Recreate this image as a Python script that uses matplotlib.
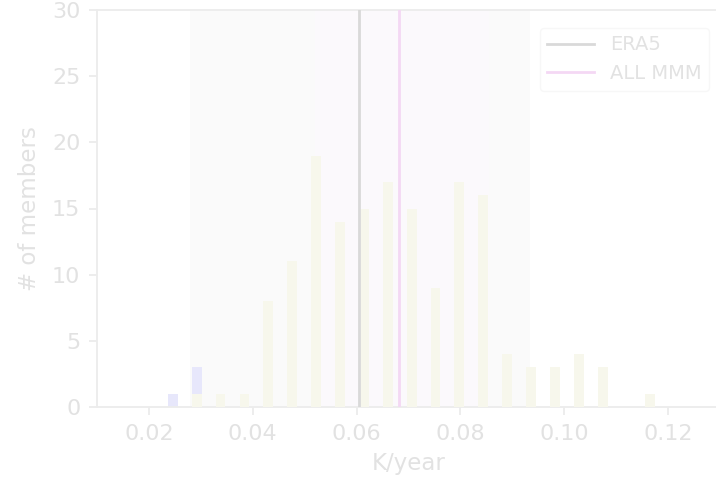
import matplotlib.pyplot as plt
import numpy as np

# histogram bin centres (K/year) and member counts per bin
bin_centres = [0.0246, 0.0292, 0.0338, 0.0384, 0.0430, 0.0476, 0.0522,
               0.0568, 0.0614, 0.0660, 0.0706, 0.0752, 0.0798, 0.0844,
               0.0890, 0.0936, 0.0982, 0.1028, 0.1074, 0.1120, 0.1166]
counts_obs_like = [1, 3, 0, 0, 0, 0, 0, 0, 0, 0, 0, 0, 0, 0, 0, 0, 0, 0, 0, 0, 0]
counts_models = [0, 1, 1, 1, 8, 11, 19, 14, 15, 17, 15, 9, 17, 16, 4, 3, 3, 4, 3, 0, 1]

# shaded ranges and reference trends
full_range = (0.0279, 0.0934)
mmm_range = (0.0520, 0.0855)
era5_trend = 0.0605
mmm_trend = 0.0682

bar_width = 0.0019
txt = '#e2e2e2'

fig = plt.figure(figsize=(7.16, 4.84), dpi=100)
ax = fig.add_axes([97 / 716, 77 / 484, 623 / 716, 397 / 484])

ax.axvspan(full_range[0], full_range[1], color='#fafafa', lw=0, zorder=0)
ax.axvspan(mmm_range[0], mmm_range[1], color='#fbf9fc', lw=0, zorder=0)

ax.bar(bin_centres, counts_obs_like, width=bar_width, color='#e7e7fb', zorder=2)
ax.bar(bin_centres, counts_models, width=bar_width, color='#f7f7ec', zorder=3)

ax.axvline(era5_trend, color='#d9d9d9', lw=2, label='ERA5', zorder=4)
ax.axvline(mmm_trend, color='#f4d8f4', lw=2, label='ALL MMM', zorder=4)

ax.set_xlim(0.01, 0.13)
ax.set_ylim(0, 30)
ax.set_xticks([0.02, 0.04, 0.06, 0.08, 0.10, 0.12])
ax.set_xticklabels(['0.02', '0.04', '0.06', '0.08', '0.10', '0.12'])
ax.set_yticks([0, 5, 10, 15, 20, 25, 30])

ax.set_xlabel('K/year', fontsize=16.5, color=txt, labelpad=6)
ax.set_ylabel('# of members', fontsize=16.5, color=txt, labelpad=8)
ax.tick_params(labelsize=16, colors='#ececec', labelcolor=txt,
               length=6, width=1.3, pad=6)
for s in ax.spines.values():
    s.set_color('#ececec')
    s.set_linewidth(1.3)
ax.spines['right'].set_visible(False)

leg = ax.legend(loc='upper right', bbox_to_anchor=(0.998, 0.98), fontsize=14,
                frameon=True, handlelength=2.4, labelcolor=txt)
leg.get_frame().set_edgecolor('#f5f5f5')
leg.get_frame().set_linewidth(1.0)

fig.savefig('out.png', dpi=100)
